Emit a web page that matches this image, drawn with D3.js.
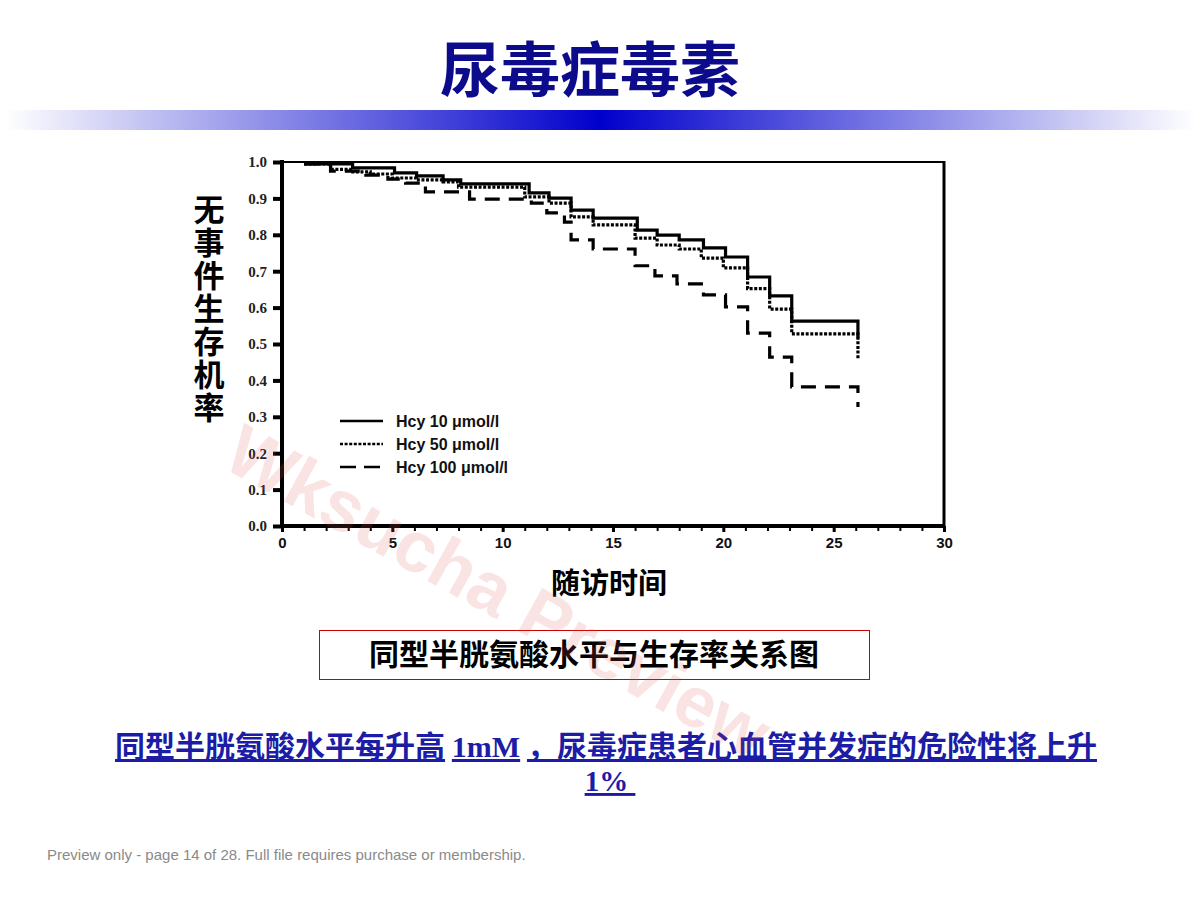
<!DOCTYPE html>
<html>
<head>
<meta charset="utf-8">
<script src="https://cdn.jsdelivr.net/npm/d3@7"></script>
<style>
html,body{margin:0;padding:0;background:#fff;}
svg{display:block;}
</style>
</head>
<body>
<div id="chart"></div>
<script>
// ---- data ----
const seriesNames = ["Hcy 10 \u03bcmol/l", "Hcy 50 \u03bcmol/l", "Hcy 100 \u03bcmol/l"];
const hcy10Times = [1.0, 3.2, 5.1, 6.1, 7.3, 8.1, 11.2, 12.1, 13.1, 14.1, 16.1, 17.0, 18.0, 19.1, 20.1, 21.1, 22.1, 23.1, 26.1];
const hcy10Surv  = [0.995, 0.984, 0.970, 0.962, 0.951, 0.940, 0.915, 0.901, 0.868, 0.846, 0.813, 0.799, 0.786, 0.764, 0.739, 0.684, 0.632, 0.563, 0.516];
const hcy50Times = [1.0, 2.2, 3.1, 4.0, 5.0, 6.1, 7.3, 8.0, 11.0, 12.1, 13.1, 14.1, 16.0, 17.0, 18.0, 19.0, 20.0, 21.1, 22.1, 23.1, 26.1];
const hcy50Surv  = [0.995, 0.980, 0.973, 0.967, 0.956, 0.951, 0.945, 0.931, 0.904, 0.887, 0.849, 0.827, 0.791, 0.772, 0.761, 0.736, 0.709, 0.652, 0.596, 0.528, 0.460];
const hcy100Times = [1.0, 2.2, 3.8, 4.8, 5.6, 6.5, 8.5, 11.3, 12.0, 12.8, 13.1, 14.1, 16.0, 16.9, 17.9, 19.1, 20.1, 21.1, 22.1, 23.1, 26.1];
const hcy100Surv  = [0.995, 0.975, 0.964, 0.953, 0.942, 0.918, 0.898, 0.887, 0.860, 0.835, 0.786, 0.761, 0.715, 0.687, 0.665, 0.635, 0.602, 0.530, 0.464, 0.382, 0.327];
const yTickLabels = ["0.0","0.1","0.2","0.3","0.4","0.5","0.6","0.7","0.8","0.9","1.0"];
const xTickLabels = ["0","5","10","15","20","25","30"];
const yTitle = "无事件生存机率";
const xTitle = "随访时间";
const pageTitle = "尿毒症毒素";
const caption = "同型半胱氨酸水平与生存率关系图";
const noteParts = ["同型半胱氨酸水平每升高", "1mM", "，尿毒症患者心血管并发症的危险性将上升", "1%"];

// ---- drawing ----
const W = 1200, H = 900;
const svg = d3.select("#chart").append("svg").attr("width", W).attr("height", H);
const cjk = "'Noto Sans CJK SC', 'Noto Sans', sans-serif";

// title
svg.append("text").attr("x", 590).attr("y", 92).attr("text-anchor", "middle")
  .style("font-family", cjk).style("font-weight", 700).style("font-size", "60px")
  .attr("fill", "#0b0b8c").text(pageTitle);

// gradient bar
const defs = svg.append("defs");
const grad = defs.append("linearGradient").attr("id", "bar").attr("x1", "0%").attr("x2", "100%");
grad.append("stop").attr("offset", "0%").attr("stop-color", "#ffffff");
grad.append("stop").attr("offset", "50%").attr("stop-color", "#0000cc");
grad.append("stop").attr("offset", "100%").attr("stop-color", "#ffffff");
svg.append("rect").attr("x", 5).attr("y", 110).attr("width", 1190).attr("height", 20).attr("fill", "url(#bar)");

// plot scales
const x = d3.scaleLinear().domain([0, 30]).range([282, 944]);
const y = d3.scaleLinear().domain([0, 1]).range([526, 162]);

const g = svg.append("g");

// frame
g.append("line").attr("x1", x(0)).attr("x2", x(30)).attr("y1", y(1)).attr("y2", y(1)).attr("stroke", "#000").attr("stroke-width", 2);
g.append("line").attr("x1", x(30)).attr("x2", x(30)).attr("y1", y(1)-1).attr("y2", y(0)).attr("stroke", "#000").attr("stroke-width", 3);

// y axis
const yAxis = d3.axisLeft(y).tickValues(d3.range(0, 11).map(i => i / 10))
  .tickFormat((d, i) => yTickLabels[i]).tickSize(9).tickPadding(6);
const ya = g.append("g").attr("transform", `translate(${x(0)},0)`).call(yAxis);
ya.select(".domain").attr("stroke-width", 4).attr("d", `M0,${y(1)-2}V${y(0)+2}`);
ya.selectAll(".tick line").attr("stroke-width", 4);
ya.selectAll(".tick text").style("font-family", "'Liberation Serif', serif").style("font-weight", 700)
  .style("font-size", "15px").attr("fill", "#222");

// x axis
const xAxisMinor = d3.axisBottom(x).tickValues(d3.range(0, 31)).tickFormat("").tickSize(5);
const xm = g.append("g").attr("transform", `translate(0,${y(0)})`).call(xAxisMinor);
xm.select(".domain").remove();
xm.selectAll(".tick line").attr("stroke-width", 2);
const xAxis = d3.axisBottom(x).tickValues(d3.range(0, 31, 5)).tickFormat((d, i) => xTickLabels[i]).tickSize(6).tickPadding(5);
const xa = g.append("g").attr("transform", `translate(0,${y(0)})`).call(xAxis);
xa.select(".domain").attr("stroke-width", 4).attr("d", `M${x(0)-2},0H${x(30)+1}`);
xa.selectAll(".tick line").attr("stroke-width", 3);
xa.selectAll(".tick text").style("font-family", "'Liberation Sans', Arial, sans-serif").style("font-weight", 700)
  .style("font-size", "15px").attr("fill", "#111");

// curves
const line = d3.line().x(d => x(d[0])).y(d => y(d[1])).curve(d3.curveStepAfter);
const series = [
  { t: hcy10Times, s: hcy10Surv, dash: null, w: 3.2 },
  { t: hcy50Times, s: hcy50Surv, dash: "3,1.6", w: 3.2 },
  { t: hcy100Times, s: hcy100Surv, dash: "15,9", w: 3.2 }
];
series.forEach(sr => {
  const pts = sr.t.map((t, i) => [t, sr.s[i]]);
  g.append("path").attr("d", line(pts)).attr("fill", "none").attr("stroke", "#000")
    .attr("stroke-width", sr.w).attr("stroke-dasharray", sr.dash);
});

// legend
series.forEach((sr, i) => {
  const ly = 421 + i * 23;
  g.append("line").attr("x1", 340).attr("x2", 383).attr("y1", ly).attr("y2", ly)
    .attr("stroke", "#000").attr("stroke-width", 2.6).attr("stroke-dasharray", i === 2 ? "16,8" : sr.dash);
  g.append("text").attr("x", 396).attr("y", ly + 6).style("font-family", "'Liberation Sans', Arial, sans-serif")
    .style("font-weight", 700).style("font-size", "16px").attr("fill", "#111").text(seriesNames[i]);
});

// y title (vertical text)
svg.append("text").attr("x", 209).attr("y", 194)
  .style("writing-mode", "vertical-rl").style("letter-spacing", "2px")
  .style("font-family", cjk).style("font-weight", 700).style("font-size", "31px").attr("fill", "#000").text(yTitle);

// x title
svg.append("text").attr("x", 609).attr("y", 594).attr("text-anchor", "middle")
  .style("font-family", cjk).style("font-weight", 700).style("font-size", "29px").attr("fill", "#000").text(xTitle);

// caption box
svg.append("rect").attr("x", 319.5).attr("y", 630.5).attr("width", 550).attr("height", 49)
  .attr("fill", "none").attr("stroke", "#cc0000").attr("stroke-width", 1);
svg.append("text").attr("x", 594).attr("y", 665).attr("text-anchor", "middle")
  .style("font-family", cjk).style("font-weight", 700).style("font-size", "30px").attr("fill", "#000").text(caption);

// note
const noteColor = "#1c1ca6";
const note = svg.append("text").attr("x", 606).attr("y", 757).attr("text-anchor", "middle")
  .style("font-family", cjk).style("font-weight", 700).style("font-size", "30px").attr("fill", noteColor);
note.append("tspan").style("text-decoration", "underline").text(noteParts[0]);
note.append("tspan").text(" ");
note.append("tspan").style("font-family", "'Liberation Serif', serif").style("text-decoration", "underline").text(noteParts[1]);
note.append("tspan").text(" ");
note.append("tspan").style("text-decoration", "underline").text(noteParts[2]);
svg.append("text").attr("x", 610).attr("y", 791).attr("text-anchor", "middle")
  .style("font-family", "'Liberation Serif', serif").style("font-weight", 700).style("font-size", "29px")
  .style("text-decoration", "underline").attr("fill", noteColor).text(noteParts[3] + "\u00a0");

// watermark
svg.append("text").attr("transform", "translate(220,466) rotate(29)")
  .style("font-family", "'Liberation Sans', Arial, sans-serif").style("font-weight", 700).style("font-size", "72px")
  .attr("fill", "rgba(225,80,80,0.16)").text("Wksucha Preview");

// footer
svg.append("text").attr("x", 47).attr("y", 860)
  .style("font-family", "'Liberation Sans', Arial, sans-serif").style("font-size", "15px")
  .attr("fill", "#8a8a8a").text("Preview only - page 14 of 28. Full file requires purchase or membership.");
</script>
</body>
</html>
